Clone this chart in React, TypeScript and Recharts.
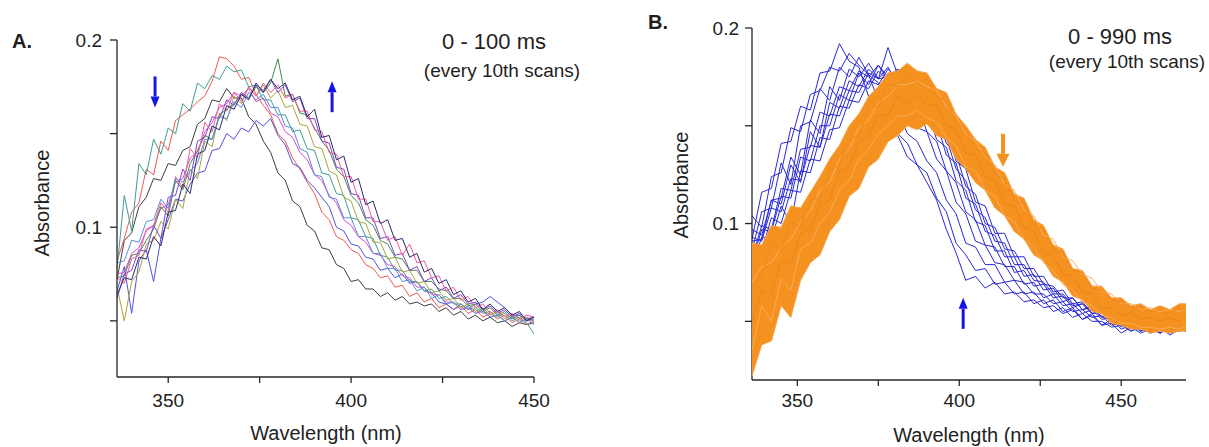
import React from "react";
import { ComposedChart, Line, Area, XAxis, YAxis, ReferenceDot } from "recharts";

const FONT = '"Liberation Sans", Arial, Helvetica, sans-serif';

// ---------- panel A: 0 - 100 ms, every 10th scan ----------
const WAVE_A = [
  336, 338, 340, 342, 344, 346, 348, 350, 352, 354, 356, 358, 360, 362, 364, 366, 368, 370, 372, 374,
  376, 378, 380, 382, 384, 386, 388, 390, 392, 394, 396, 398, 400, 402, 404, 406, 408, 410, 412, 414,
  416, 418, 420, 422, 424, 426, 428, 430, 432, 434, 436, 438, 440, 442, 444, 446, 448, 450,
];
const A_BLACK = [.072,.093,.097,.111,.116,.126,.125,.134,.133,.141,.143,.155,.158,.168,.167,.174,.169,.169,.159,.155,.146,.140,.129,.125,.114,.111,.101,.098,.089,.088,.080,.078,.071,.072,.067,.067,.063,.065,.061,.063,.059,.060,.058,.059,.055,.057,.053,.055,.051,.053,.050,.052,.049,.050,.047,.049,.048,.049];
const A_RED = [.082,.094,.108,.113,.131,.128,.146,.141,.157,.160,.163,.167,.170,.178,.191,.190,.186,.179,.180,.171,.165,.160,.150,.146,.137,.131,.124,.118,.108,.104,.095,.093,.088,.086,.080,.078,.073,.074,.068,.069,.063,.065,.060,.062,.057,.059,.056,.058,.054,.056,.052,.054,.051,.053,.049,.051,.048,.050];
const A_BLUE = [.066,.079,.054,.082,.088,.071,.094,.104,.115,.114,.123,.129,.130,.141,.142,.150,.147,.153,.151,.157,.154,.158,.149,.144,.134,.132,.125,.121,.116,.111,.100,.098,.091,.090,.084,.083,.077,.078,.073,.075,.070,.071,.066,.065,.060,.059,.056,.059,.056,.059,.060,.063,.060,.057,.053,.053,.050,.051];
const A_MAGENTA = [.075,.076,.086,.089,.098,.101,.110,.112,.124,.126,.137,.140,.151,.156,.164,.166,.172,.170,.174,.167,.169,.161,.159,.151,.148,.140,.136,.128,.125,.117,.113,.104,.101,.095,.092,.086,.085,.080,.079,.074,.073,.068,.068,.064,.064,.060,.060,.056,.057,.054,.055,.052,.053,.050,.052,.049,.051,.050];
const A_TEAL = [.078,.117,.098,.134,.128,.147,.139,.153,.150,.166,.162,.177,.174,.181,.179,.186,.183,.184,.175,.176,.168,.168,.160,.160,.151,.152,.142,.141,.129,.128,.118,.117,.105,.104,.095,.094,.085,.084,.077,.077,.071,.071,.066,.067,.062,.063,.059,.059,.056,.057,.054,.055,.052,.054,.050,.052,.049,.043];
const A_OLIVE = [.068,.050,.071,.076,.091,.093,.103,.099,.115,.110,.131,.126,.146,.143,.161,.157,.170,.166,.175,.170,.176,.169,.173,.164,.165,.155,.154,.143,.142,.130,.128,.116,.114,.103,.102,.092,.092,.083,.084,.076,.077,.070,.071,.065,.066,.061,.062,.057,.059,.055,.057,.053,.055,.051,.053,.050,.052,.050];
const A_GREEN = [.073,.074,.085,.086,.093,.099,.111,.106,.125,.120,.134,.141,.149,.147,.160,.163,.166,.171,.169,.175,.172,.177,.190,.170,.171,.161,.160,.153,.146,.141,.131,.127,.117,.113,.104,.101,.093,.091,.084,.083,.077,.077,.071,.071,.067,.066,.062,.062,.058,.059,.055,.057,.053,.055,.051,.053,.050,.052];
const A_PURPLE = [.062,.075,.077,.088,.087,.101,.094,.116,.117,.131,.125,.146,.148,.159,.158,.168,.165,.172,.169,.176,.173,.179,.172,.176,.167,.169,.158,.158,.146,.145,.132,.131,.118,.117,.105,.105,.094,.095,.085,.086,.077,.079,.071,.073,.066,.068,.062,.064,.059,.060,.056,.058,.054,.056,.052,.054,.051,.052];
const A_PINK = [.073,.070,.083,.085,.099,.101,.113,.108,.127,.121,.142,.137,.156,.151,.166,.162,.172,.167,.175,.170,.177,.172,.176,.169,.171,.162,.162,.152,.151,.140,.139,.127,.127,.115,.115,.103,.103,.093,.095,.085,.091,.081,.082,.073,.074,.066,.068,.061,.063,.057,.059,.054,.056,.052,.054,.051,.053,.052];
const A_NAVY = [.064,.073,.072,.084,.083,.095,.090,.108,.109,.123,.118,.139,.141,.154,.152,.165,.163,.171,.168,.177,.172,.179,.174,.177,.168,.170,.159,.163,.148,.149,.136,.138,.124,.126,.112,.114,.102,.104,.093,.094,.084,.086,.076,.078,.070,.072,.064,.066,.060,.062,.056,.059,.055,.057,.053,.055,.050,.052];
const A_LIGHTBLUE = [.081,.082,.093,.092,.103,.104,.115,.110,.126,.124,.130,.134,.147,.147,.159,.158,.167,.164,.172,.168,.171,.164,.164,.154,.153,.142,.140,.128,.127,.116,.115,.105,.105,.095,.095,.086,.086,.078,.078,.071,.072,.066,.068,.062,.064,.059,.060,.056,.058,.054,.056,.052,.053,.050,.052,.049,.051,.048];

const A_SERIES = [
  { key: "black", color: "#3d3d3d", values: A_BLACK },
  { key: "red", color: "#ea5a52", values: A_RED },
  { key: "blue", color: "#5252dc", values: A_BLUE },
  { key: "magenta", color: "#dc4ad6", values: A_MAGENTA },
  { key: "teal", color: "#3f9c92", values: A_TEAL },
  { key: "olive", color: "#aaa43a", values: A_OLIVE },
  { key: "green", color: "#468c46", values: A_GREEN },
  { key: "purple", color: "#7c42d2", values: A_PURPLE },
  { key: "pink", color: "#f05a9a", values: A_PINK },
  { key: "lightblue", color: "#5a8cd8", values: A_LIGHTBLUE },
  { key: "navy", color: "#2a2a6e", values: A_NAVY },
];

// ---------- panel B: 0 - 990 ms, every 10th scan ----------
const WAVE_B = [
  336, 339, 342, 345, 348, 351, 354, 357, 360, 363, 366, 369, 372, 375, 378, 381, 384, 387, 390, 393,
  396, 399, 402, 405, 408, 411, 414, 417, 420, 423, 426, 429, 432, 435, 438, 441, 444, 447, 450, 453,
  456, 459, 462, 465, 468, 470,
];
const B_BLUE_0 = [.092,.116,.118,.141,.142,.160,.158,.177,.178,.192,.183,.180,.165,.160,.148,.145,.134,.130,.121,.112,.097,.085,.071,.073,.067,.070,.064,.065,.060,.061,.057,.058,.054,.056,.051,.053,.048,.049,.044,.047,.044,.046,.044,.047,.045,.046];
const B_BLUE_1 = [.104,.098,.124,.126,.149,.147,.166,.168,.180,.178,.187,.181,.176,.163,.158,.146,.141,.130,.126,.113,.106,.090,.084,.076,.077,.069,.070,.064,.065,.059,.061,.055,.057,.052,.054,.050,.050,.047,.048,.045,.047,.044,.046,.044,.046,.045];
const B_BLUE_2 = [.086,.106,.108,.131,.120,.150,.152,.169,.163,.180,.175,.185,.176,.172,.160,.157,.146,.142,.132,.126,.112,.105,.090,.088,.079,.079,.070,.071,.064,.065,.059,.061,.055,.057,.051,.054,.048,.051,.046,.048,.045,.047,.044,.047,.045,.047];
const B_BLUE_3 = [.091,.092,.112,.113,.134,.125,.153,.146,.170,.163,.179,.175,.182,.174,.175,.163,.161,.149,.147,.133,.127,.111,.105,.091,.089,.080,.079,.071,.070,.064,.064,.059,.060,.055,.056,.052,.053,.048,.049,.045,.047,.044,.047,.043,.046,.045];
const B_BLUE_4 = [.082,.099,.097,.118,.117,.138,.139,.157,.155,.170,.168,.178,.175,.181,.173,.174,.163,.161,.147,.142,.127,.121,.106,.102,.089,.088,.078,.078,.069,.070,.062,.064,.058,.059,.054,.056,.051,.052,.047,.050,.045,.047,.045,.047,.045,.047];
const B_BLUE_5 = [.097,.094,.112,.110,.130,.121,.147,.139,.162,.159,.173,.170,.179,.174,.180,.171,.171,.160,.158,.143,.139,.122,.117,.101,.099,.086,.086,.075,.076,.068,.069,.062,.063,.057,.059,.054,.055,.050,.051,.047,.048,.045,.047,.045,.046,.046];
const B_BLUE_6 = [.080,.097,.096,.114,.113,.134,.132,.150,.150,.166,.163,.177,.171,.181,.175,.179,.169,.169,.155,.152,.135,.131,.113,.110,.096,.094,.083,.083,.073,.074,.066,.067,.060,.062,.056,.058,.052,.054,.048,.050,.047,.049,.046,.048,.046,.048];
const B_BLUE_7 = [.093,.091,.108,.106,.123,.122,.140,.139,.156,.155,.168,.167,.177,.174,.190,.176,.176,.165,.162,.148,.144,.128,.122,.107,.103,.091,.090,.079,.079,.071,.070,.064,.064,.058,.059,.054,.055,.050,.051,.047,.049,.046,.047,.045,.047,.046];
const B_BLUE_8 = [.078,.093,.092,.109,.100,.127,.126,.144,.143,.160,.159,.171,.169,.178,.173,.179,.171,.171,.159,.156,.141,.136,.119,.115,.100,.098,.087,.086,.077,.077,.069,.068,.062,.062,.056,.057,.052,.053,.048,.049,.045,.047,.044,.047,.046,.047];
const B_BLUE_9 = [.088,.086,.103,.100,.117,.116,.133,.132,.148,.149,.163,.162,.173,.171,.179,.174,.179,.169,.168,.152,.150,.132,.128,.111,.109,.095,.095,.083,.083,.073,.073,.065,.066,.059,.060,.054,.055,.050,.050,.047,.048,.046,.048,.045,.047,.047];
const B_BLUES = [B_BLUE_0, B_BLUE_1, B_BLUE_2, B_BLUE_3, B_BLUE_4, B_BLUE_5, B_BLUE_6, B_BLUE_7, B_BLUE_8, B_BLUE_9];

// later scans form a dense orange band: its edges plus a few scans inside it
const B_ORANGE_HIGH = [.090,.089,.099,.098,.109,.108,.116,.124,.133,.140,.150,.156,.165,.170,.177,.178,.182,.178,.177,.169,.167,.156,.150,.143,.139,.129,.126,.115,.113,.102,.099,.089,.087,.077,.076,.068,.068,.062,.062,.058,.059,.056,.058,.056,.059,.059];
const B_ORANGE_LOW = [.022,.038,.040,.058,.052,.071,.080,.084,.096,.102,.114,.118,.129,.133,.142,.145,.150,.148,.151,.145,.143,.133,.128,.121,.117,.108,.104,.096,.092,.084,.081,.073,.070,.063,.061,.055,.054,.049,.048,.046,.046,.044,.045,.044,.045,.045];
const B_ORANGE_1 = [.070,.078,.080,.088,.092,.101,.106,.117,.121,.133,.138,.149,.153,.162,.165,.171,.171,.173,.170,.168,.160,.155,.146,.142,.134,.130,.120,.117,.107,.104,.094,.092,.083,.081,.074,.072,.065,.064,.059,.059,.056,.057,.055,.056,.055,.057];
const B_ORANGE_2 = [.050,.066,.064,.081,.079,.095,.097,.110,.112,.127,.129,.142,.144,.156,.155,.165,.161,.166,.160,.161,.150,.148,.136,.135,.124,.122,.110,.109,.098,.096,.085,.084,.074,.073,.065,.064,.057,.057,.053,.054,.051,.052,.050,.052,.050,.053];
const B_ORANGE_3 = [.035,.058,.050,.072,.066,.087,.090,.100,.106,.117,.122,.133,.138,.146,.150,.155,.155,.158,.154,.152,.144,.140,.129,.127,.117,.114,.104,.101,.092,.088,.080,.076,.069,.066,.060,.058,.053,.052,.049,.049,.047,.047,.046,.047,.046,.048];
const B_ORANGE_4 = [.080,.072,.091,.086,.101,.098,.112,.113,.127,.130,.143,.145,.159,.160,.171,.170,.176,.172,.174,.165,.163,.152,.148,.138,.136,.125,.123,.112,.110,.099,.097,.087,.085,.076,.075,.067,.066,.061,.060,.057,.057,.055,.056,.054,.057,.056];

const X_TICKS = [350, 375, 400, 425, 450];
const Y_TICKS = [0.05, 0.1, 0.15, 0.2];

const rowsA = WAVE_A.map((w, i) => {
  const r: Record<string, number> = { w };
  A_SERIES.forEach((s) => (r[s.key] = s.values[i]));
  return r;
});

const rowsB = WAVE_B.map((w, i) => {
  const r: Record<string, any> = { w, band: [B_ORANGE_LOW[i], B_ORANGE_HIGH[i]] };
  B_BLUES.forEach((v, k) => (r[`b${k}`] = v[i]));
  r.o1 = B_ORANGE_1[i];
  r.o2 = B_ORANGE_2[i];
  r.o3 = B_ORANGE_3[i];
  r.o4 = B_ORANGE_4[i];
  return r;
});

const ORANGE_LINES = [
  { key: "o1", color: "#f9b060" },
  { key: "o2", color: "#ec8616" },
  { key: "o3", color: "#f9ac58" },
  { key: "o4", color: "#ee8a1c" },
];

const axisStroke = { stroke: "#262626", strokeWidth: 1.3 };
const tickStyle = { fontSize: 19, fill: "#222", fontFamily: FONT };
const fmtX = (v: number) => (v % 50 === 0 ? String(v) : "");
const fmtY = (v: number) => (v === 0.1 || v === 0.2 ? String(v) : "");

function Arrow(props: any) {
  const { cx, cy, up, color, len, head, headW, shaft } = props;
  if (cx == null || cy == null) return null;
  const tail = up ? cy + len : cy - len;
  const base = up ? cy + head : cy - head;
  return (
    <g>
      <line x1={cx} y1={tail} x2={cx} y2={base} stroke={color} strokeWidth={shaft} />
      <polygon points={`${cx - headW / 2},${base} ${cx + headW / 2},${base} ${cx},${cy}`} fill={color} />
    </g>
  );
}

function Text({ x, y, size, children, bold, anchor = "center" }: any) {
  const shift = anchor === "center" ? "translateX(-50%)" : "none";
  return (
    <div
      style={{
        position: "absolute",
        left: x,
        top: y,
        fontSize: size,
        lineHeight: 1,
        fontFamily: FONT,
        fontWeight: bold ? 700 : 400,
        color: "#1e1e1e",
        whiteSpace: "nowrap",
        transform: shift,
      }}
    >
      {children}
    </div>
  );
}

function YTitle({ x, y }: { x: number; y: number }) {
  return (
    <div
      style={{
        position: "absolute",
        left: x,
        top: y,
        fontSize: 20,
        lineHeight: 1,
        fontFamily: FONT,
        color: "#1e1e1e",
        whiteSpace: "nowrap",
        transform: "translate(-50%, -50%) rotate(-90deg)",
      }}
    >
      Absorbance
    </div>
  );
}

export default function App() {
  return (
    <div style={{ position: "absolute", left: 0, top: 0, width: 1209, height: 447, background: "#fff", overflow: "hidden" }}>
      {/* panel A */}
      <div style={{ position: "absolute", left: 0, top: 0 }}>
        <ComposedChart width={560} height={447} data={rowsA} margin={{ top: 40, right: 26, bottom: 0, left: 0 }}>
          <XAxis
            dataKey="w"
            type="number"
            domain={[336, 450]}
            allowDataOverflow
            ticks={X_TICKS}
            interval={0}
            tickFormatter={fmtX}
            height={70}
            tickSize={6}
            tickMargin={11}
            axisLine={axisStroke}
            tickLine={axisStroke}
            tick={tickStyle}
          />
          <YAxis
            type="number"
            domain={[0.02, 0.2]}
            allowDataOverflow
            ticks={Y_TICKS}
            interval={0}
            tickFormatter={fmtY}
            width={117}
            tickSize={7}
            tickMargin={8}
            axisLine={axisStroke}
            tickLine={axisStroke}
            tick={tickStyle}
          />
          {A_SERIES.map((s) => (
            <Line
              key={s.key}
              dataKey={s.key}
              type="linear"
              stroke={s.color}
              strokeWidth={1}
              dot={false}
              activeDot={false}
              isAnimationActive={false}
            />
          ))}
          <ReferenceDot
            x={346.4}
            y={0.164}
            shape={(p: any) => <Arrow cx={p.cx} cy={p.cy} color="#1414e6" len={31} head={11} headW={9} shaft={3} />}
          />
          <ReferenceDot
            x={394.8}
            y={0.178}
            shape={(p: any) => <Arrow cx={p.cx} cy={p.cy} up color="#1414e6" len={31} head={11} headW={9} shaft={3} />}
          />
        </ComposedChart>
      </div>

      {/* panel B: axes and early (blue) scans */}
      <div style={{ position: "absolute", left: 600, top: 0 }}>
        <ComposedChart width={609} height={447} data={rowsB} margin={{ top: 28, right: 23, bottom: 0, left: 0 }}>
          <XAxis
            dataKey="w"
            type="number"
            domain={[336, 470]}
            allowDataOverflow
            ticks={X_TICKS}
            interval={0}
            tickFormatter={fmtX}
            height={67}
            tickSize={6}
            tickMargin={8}
            axisLine={axisStroke}
            tickLine={axisStroke}
            tick={tickStyle}
          />
          <YAxis
            type="number"
            domain={[0.02, 0.2]}
            allowDataOverflow
            ticks={Y_TICKS}
            interval={0}
            tickFormatter={fmtY}
            width={152}
            tickSize={7}
            tickMargin={6}
            axisLine={axisStroke}
            tickLine={axisStroke}
            tick={tickStyle}
          />
          {B_BLUES.map((_, k) => (
            <Line
              key={k}
              dataKey={`b${k}`}
              type="linear"
              stroke="#2828d6"
              strokeWidth={1}
              dot={false}
              activeDot={false}
              isAnimationActive={false}
            />
          ))}
        </ComposedChart>
      </div>

      {/* panel B: later (orange) scans drawn over the blue ones */}
      <div style={{ position: "absolute", left: 600, top: 0 }}>
        <ComposedChart width={609} height={447} data={rowsB} margin={{ top: 28, right: 23, bottom: 67, left: 152 }}>
          <XAxis dataKey="w" type="number" domain={[336, 470]} allowDataOverflow hide />
          <YAxis type="number" domain={[0.02, 0.2]} allowDataOverflow hide />
          <Area
            dataKey="band"
            type="linear"
            stroke="#f7a448"
            strokeWidth={1}
            fill="#f4911f"
            fillOpacity={1}
            dot={false}
            activeDot={false}
            isAnimationActive={false}
          />
          {ORANGE_LINES.map((o) => (
            <Line
              key={o.key}
              dataKey={o.key}
              type="linear"
              stroke={o.color}
              strokeWidth={1}
              dot={false}
              activeDot={false}
              isAnimationActive={false}
            />
          ))}
          <ReferenceDot
            x={413.5}
            y={0.129}
            shape={(p: any) => <Arrow cx={p.cx} cy={p.cy} color="#f39222" len={33} head={13} headW={13} shaft={4} />}
          />
          <ReferenceDot
            x={401.2}
            y={0.062}
            shape={(p: any) => <Arrow cx={p.cx} cy={p.cy} up color="#1414e6" len={31} head={11} headW={9} shaft={3} />}
          />
        </ComposedChart>
      </div>

      {/* titles and annotations */}
      <Text x={12} y={31} size={20} bold anchor="left">A.</Text>
      <Text x={648} y={12} size={20} bold anchor="left">B.</Text>
      <Text x={494} y={31} size={22}>0 - 100 ms</Text>
      <Text x={502} y={61} size={19}>(every 10th scans)</Text>
      <Text x={1120} y={26} size={22}>0 - 990 ms</Text>
      <Text x={1127} y={52} size={19}>(every 10th scans)</Text>
      <Text x={326} y={423} size={20}>Wavelength (nm)</Text>
      <Text x={969} y={425} size={20}>Wavelength (nm)</Text>
      <YTitle x={42} y={203} />
      <YTitle x={681} y={185} />
    </div>
  );
}
